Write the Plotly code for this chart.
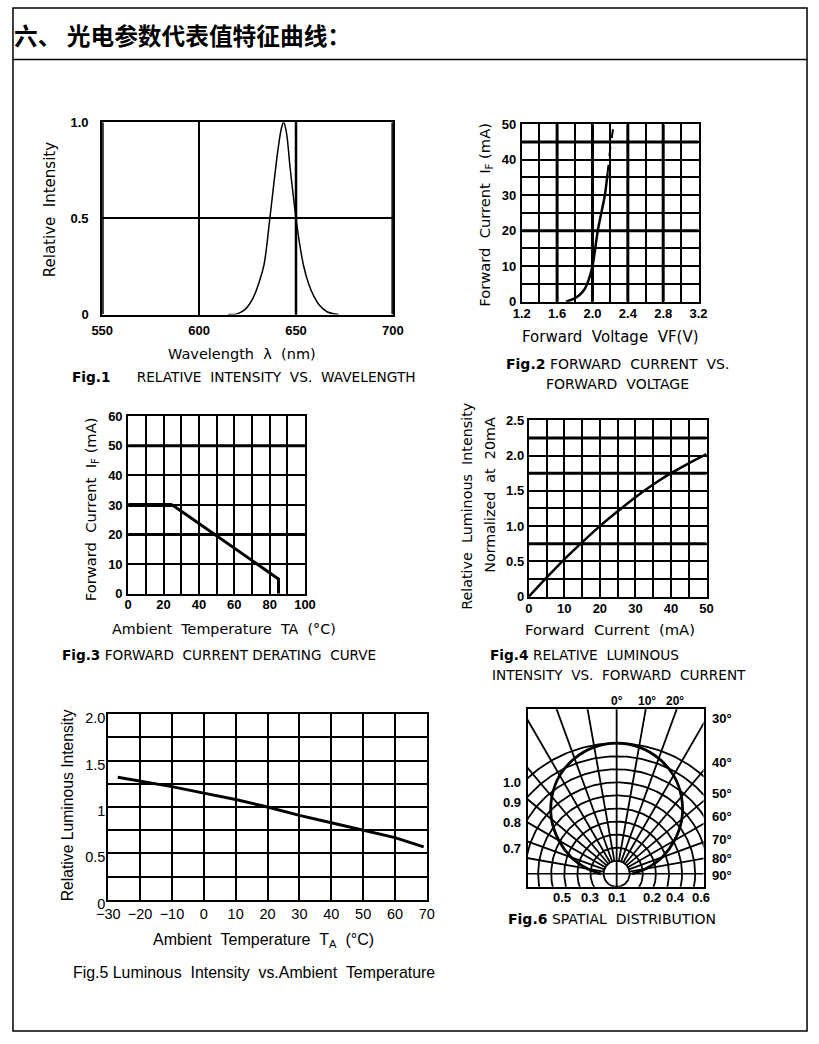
import numpy as np
import plotly.graph_objects as go

W, H = 819, 1044
# observed mapping of the page into the photograph (measured): obs = S * (page + PAD)
SX, PADX, SY, PADY = 0.973, 12.0, 0.985, 7.5

# ---------------- DATA ----------------
# Fig.1 relative intensity vs wavelength
wavelength_nm = [615, 620, 624, 628, 631, 633.5, 636.5, 639, 641, 642.5, 643.6, 645, 647, 650, 652, 654, 656.5, 659, 662, 666, 672]
relative_intensity = [0, 0.005, 0.03, 0.09, 0.17, 0.26, 0.5, 0.72, 0.88, 0.97, 1.0, 0.95, 0.76, 0.5, 0.36, 0.25, 0.16, 0.10, 0.05, 0.015, 0]
fig1_xticks = [550, 600, 650, 700]
fig1_xlabels = ["550", "600", "650", "700"]
fig1_yticks = [0, 0.5, 1.0]
fig1_ylabels = ["0", "0.5", "1.0"]

# Fig.2 forward current vs forward voltage
vf_solid = [1.70, 1.78, 1.85, 1.91, 1.96, 2.00, 2.06, 2.10, 2.14, 2.17]
if_solid = [0, 0.7, 1.8, 3.5, 6.4, 10, 20, 25, 30, 36]
vf_dash = [2.17, 2.20, 2.24]
if_dash = [36, 43, 50]
fig2_xticks = [1.2, 1.4, 1.6, 1.8, 2.0, 2.2, 2.4, 2.6, 2.8, 3.0, 3.2]
fig2_xlabels = ["1.2", "", "1.6", "", "2.0", "", "2.4", "", "2.8", "", "3.2"]
fig2_yticks = [0, 5, 10, 15, 20, 25, 30, 35, 40, 45, 50]
fig2_ylabels = ["0", "", "10", "", "20", "", "30", "", "40", "", "50"]

# Fig.3 derating curve
ta_derate = [0, 25, 85, 85]
if_derate = [30, 30, 5, 0]
fig3_xticks = [0, 10, 20, 30, 40, 50, 60, 70, 80, 90, 100]
fig3_xlabels = ["0", "", "20", "", "40", "", "60", "", "80", "", "100"]
fig3_yticks = [0, 10, 20, 30, 40, 50, 60]
fig3_ylabels = ["0", "10", "20", "30", "40", "50", "60"]

# Fig.4 relative luminous intensity vs forward current
if_lum = [0, 5, 10, 15, 20, 25, 30, 35, 40, 45, 50]
rel_lum = [0, 0.27, 0.53, 0.77, 1.0, 1.21, 1.41, 1.59, 1.75, 1.89, 2.02]
fig4_xticks = [0, 5, 10, 15, 20, 25, 30, 35, 40, 45, 50]
fig4_xlabels = ["0", "", "10", "", "20", "", "30", "", "40", "", "50"]
fig4_yticks = [0, 0.25, 0.5, 0.75, 1.0, 1.25, 1.5, 1.75, 2.0, 2.25, 2.5]
fig4_ylabels = ["0", "", "0.5", "", "1.0", "", "1.5", "", "2.0", "", "2.5"]

# Fig.5 luminous intensity vs ambient temperature
ta_lum = [-27, -20, -10, 0, 10, 20, 30, 40, 50, 60, 69]
rel_lum_ta = [1.32, 1.28, 1.22, 1.15, 1.08, 1.0, 0.91, 0.83, 0.75, 0.67, 0.57]
fig5_xticks = [-30, -20, -10, 0, 10, 20, 30, 40, 50, 60, 70]
fig5_xlabels = ["\u221230", "\u221220", "\u221210", "0", "10", "20", "30", "40", "50", "60", "70"]
fig5_yticks = [0, 0.25, 0.5, 0.75, 1.0, 1.25, 1.5, 1.75, 2.0]
fig5_ylabels = ["0", "", "0.5", "", "1", "", "1.5", "", "2.0"]

# Fig.6 spatial distribution
beam_angle_deg = [0, 10, 20, 30, 40, 50, 60, 70, 80, 90]
beam_rel_intensity = [1.0, 0.985, 0.94, 0.87, 0.77, 0.65, 0.51, 0.37, 0.23, 0.12]
fig6_top_labels = ["0°", "10°", "20°"]
fig6_right_labels = ["30°", "40°", "50°", "60°", "70°", "80°", "90°"]
fig6_left_labels = ["1.0", "0.9", "0.8", "0.7"]
fig6_bottom_labels = ["0.5", "0.3", "0.1", "0.2", "0.4", "0.6"]

# ---------------- HELPERS ----------------
FONT = "Liberation Sans"
TFONT = "DejaVu Sans"
NB = "\u00a0"


def X(rx):
    return (rx / SX - PADX) / W


def Y(ry):
    return 1 - (ry / SY - PADY) / H


fig = go.Figure()
annotations = []
shapes = []


def ann(text, px, py, size=13, xanchor="center", angle=0, bold=False, family=TFONT):
    annotations.append(dict(
        text=text, x=X(px), y=Y(py), xref="paper", yref="paper",
        xanchor=xanchor, yanchor="middle", showarrow=False, textangle=angle,
        font=dict(family=family, size=size, color="black", weight="bold" if bold else "normal"),
    ))


def add_axes(n, x0, x1, y0, y1, xr, yr, xt, xl, yt, yl, gridw=2, tsize=13, tbold=True,
             show=True, xstand=0, ystand=0, yshift=0):
    sfx = "" if n == 1 else str(n)
    tf = dict(family=FONT, size=tsize, color="black", weight="bold" if tbold else "normal")
    common = dict(showline=True, mirror=True, linecolor="black", linewidth=2,
                  showgrid=show, gridcolor="black", gridwidth=gridw, zeroline=False,
                  ticks="", tickfont=tf, fixedrange=True, showticklabels=show)
    fig.update_layout(**{
        "xaxis" + sfx: dict(domain=[X(x0), X(x1)], range=xr, anchor="y" + sfx,
                            tickmode="array", tickvals=xt, ticktext=xl,
                            ticklabelstandoff=xstand, **common),
        "yaxis" + sfx: dict(domain=[Y(y1), Y(y0)], range=yr, anchor="x" + sfx,
                            tickmode="array", tickvals=yt, ticktext=yl,
                            ticklabelstandoff=ystand, ticklabelshift=yshift, **common),
    })


def thick(n, orient, val, rng, width=3):
    sfx = "" if n == 1 else str(n)
    if orient == "v":
        shapes.append(dict(type="line", xref="x" + sfx, yref="y" + sfx, x0=val, x1=val, y0=rng[0], y1=rng[1],
                           line=dict(color="black", width=width), layer="below"))
    else:
        shapes.append(dict(type="line", xref="x" + sfx, yref="y" + sfx, y0=val, y1=val, x0=rng[0], x1=rng[1],
                           line=dict(color="black", width=width), layer="below"))


def line_trace(n, x, y, width=2, dash="solid", shape="linear"):
    sfx = "" if n == 1 else str(n)
    fig.add_trace(go.Scatter(x=x, y=y, mode="lines", xaxis="x" + sfx, yaxis="y" + sfx,
                             line=dict(color="black", width=width, dash=dash, shape=shape),
                             hoverinfo="skip", showlegend=False))


# ---------------- FIG 1 ----------------
add_axes(1, 102, 393, 123, 316, [550, 700], [0, 1], fig1_xticks, fig1_xlabels, fig1_yticks, fig1_ylabels,
         gridw=1.5, xstand=3, ystand=9)
thick(1, "v", 650, [0, 1], 2.5)
thick(1, "v", 550, [0, 1], 3)
thick(1, "v", 700, [0, 1], 3)
line_trace(1, wavelength_nm, relative_intensity, width=1.5, shape="spline")
ann("Relative" + NB * 2 + "Intensity", 50, 211, 15, angle=-90)
ann("Wavelength" + NB * 2 + "λ" + NB * 2 + "(nm)", 242, 356, 14.5)
ann("<b>Fig.1</b>" + NB * 6 + "RELATIVE" + NB * 2 + "INTENSITY" + NB * 2 + "VS." + NB * 2 + "WAVELENGTH", 70, 379, 13.7, xanchor="left")

# ---------------- FIG 2 ----------------
add_axes(2, 522, 699, 125, 303, [1.2, 3.2], [0, 50], fig2_xticks, fig2_xlabels, fig2_yticks, fig2_ylabels,
         gridw=2, xstand=-1, ystand=1)
for v in [1.6, 2.0, 2.4, 2.8]:
    thick(2, "v", v, [0, 50], 3)
for v in [20, 45]:
    thick(2, "h", v, [1.2, 3.2], 3)
line_trace(2, vf_solid, if_solid, width=2.5, shape="spline")
line_trace(2, vf_dash, if_dash, width=2, dash="dash")
ann("Forward" + NB * 2 + "Current" + NB * 2 + "I<sub>F</sub>" + NB + "(mA)", 486, 216, 14.7, angle=-90)
ann("Forward" + NB * 2 + "Voltage" + NB * 2 + "VF(V)", 611, 338, 15)
ann("<b>Fig.2</b>" + NB + "FORWARD" + NB * 2 + "CURRENT" + NB * 2 + "VS.", 618, 366, 14)
ann("FORWARD" + NB * 2 + "VOLTAGE", 618, 386, 14)

# ---------------- FIG 3 ----------------
add_axes(3, 128, 305, 418, 596, [0, 100], [0, 60], fig3_xticks, fig3_xlabels, fig3_yticks, fig3_ylabels,
         gridw=2, xstand=-2, ystand=1)
for v in [20, 50]:
    thick(3, "h", v, [0, 100], 3)
line_trace(3, ta_derate[:2], if_derate[:2], width=4)
line_trace(3, ta_derate[1:], if_derate[1:], width=3)
ann("Forward" + NB * 2 + "Current" + NB * 2 + "I<sub>F</sub>" + NB + "(mA)", 92, 511, 14.7, angle=-90)
ann("Ambient" + NB * 2 + "Temperature" + NB * 2 + "TA" + NB * 2 + "(°C)", 224, 631, 14.3)
ann("<b>Fig.3</b>" + NB + "FORWARD" + NB * 2 + "CURRENT" + NB + "DERATING" + NB * 2 + "CURVE", 60, 658, 13.6, xanchor="left")

# ---------------- FIG 4 ----------------
add_axes(4, 529, 707, 422, 599, [0, 50], [0, 2.5], fig4_xticks, fig4_xlabels, fig4_yticks, fig4_ylabels,
         gridw=2, xstand=-1, ystand=0)
for v in [0.75, 1.75, 2.25]:
    thick(4, "h", v, [0, 50], 3)
line_trace(4, if_lum, rel_lum, width=2.5, shape="spline")
ann("Relative" + NB * 2 + "Luminous" + NB * 2 + "Intensity", 467, 508, 14.3, angle=-90)
ann("Normalized" + NB * 2 + "at" + NB * 2 + "20mA", 490, 497, 14.3, angle=-90)
ann("Forward" + NB * 2 + "Current" + NB * 2 + "(mA)", 610, 632, 14.8)
ann("<b>Fig.4</b>" + NB + "RELATIVE" + NB * 2 + "LUMINOUS", 488, 658, 13.7, xanchor="left")
ann("INTENSITY" + NB * 2 + "VS." + NB * 2 + "FORWARD" + NB * 2 + "CURRENT", 490, 678, 13.6, xanchor="left")

# ---------------- FIG 5 ----------------
add_axes(5, 108, 427, 717, 903, [-30, 70], [0, 2], fig5_xticks, fig5_xlabels, fig5_yticks, fig5_ylabels,
         gridw=1.5, tsize=14.5, tbold=False, xstand=0, ystand=-2, yshift=4)
line_trace(5, ta_lum, rel_lum_ta, width=3)
ann("Relative" + NB + "Luminous" + NB + "Intensity", 67, 808, 15.7, angle=-90, family=FONT)
ann("Ambient" + NB * 2 + "Temperature" + NB * 2 + "T<sub>A</sub>" + NB * 2 + "(°C)", 263, 944, 16, family=FONT)
ann("Fig.5" + NB + "Luminous" + NB * 2 + "Intensity" + NB * 2 + "vs.Ambient" + NB * 2 + "Temperature", 254, 976, 15.9, family=FONT)

# ---------------- FIG 6 ----------------
cx, cy, scale = 617, 877, 131.0
add_axes(6, 528, 704, 712, 890, [(528 - cx) / scale, (704 - cx) / scale], [(cy - 890) / scale, (cy - 712) / scale],
         [], [], [], [], show=False)
t = np.linspace(0, 2 * np.pi, 361)
for r in np.arange(1, 11) / 10.0:
    line_trace(6, list(r * np.cos(t)), list(r * np.sin(t)), width=1.8)
for a in range(-80, 90, 10):
    if a == 0:
        continue
    ar = np.radians(a)
    line_trace(6, [0.1 * np.sin(ar), 2.0 * np.sin(ar)], [0.1 * np.cos(ar), 2.0 * np.cos(ar)], width=1.8)
line_trace(6, [0, 0], [-1, 2], width=1.8)
line_trace(6, [-1, 1], [0, 0], width=1.5)
ang_full = [-a for a in beam_angle_deg[::-1]] + beam_angle_deg[1:]
int_full = beam_rel_intensity[::-1] + beam_rel_intensity[1:]
cxs = [i * np.sin(np.radians(a)) for a, i in zip(ang_full, int_full)]
cys = [i * np.cos(np.radians(a)) for a, i in zip(ang_full, int_full)]
line_trace(6, cxs, cys, width=2.8, shape="spline")
for lab, px in zip(fig6_top_labels, [617, 647, 675]):
    ann(lab, px, 704, 12, bold=True, family=FONT)
for lab, py in zip(fig6_right_labels, [721, 765, 796, 820, 843, 862, 879]):
    ann(lab, 710, py, 13, xanchor="left", bold=True, family=FONT)
for lab, py in zip(fig6_left_labels, [785, 805, 826, 852]):
    ann(lab, 523, py, 13, xanchor="right", bold=True, family=FONT)
for lab, px in zip(fig6_bottom_labels, [562, 590, 617, 652, 676, 701]):
    ann(lab, px, 901, 13, bold=True, family=FONT)
ann("<b>Fig.6</b>" + NB + "SPATIAL" + NB * 2 + "DISTRIBUTION", 612, 922, 14)

# ---------------- FRAME & TITLE ----------------
fx0, fx1 = max(X(4), 1 / W), min(X(815), 1 - 1 / W)
fy_top, fy_bot = min(Y(5), 1 - 1 / H), max(Y(1038), 1 / H)
shapes.append(dict(type="rect", xref="paper", yref="paper", x0=fx0, x1=fx1, y0=fy_bot, y1=fy_top,
                   line=dict(color="black", width=1.5)))
shapes.append(dict(type="line", xref="paper", yref="paper", x0=fx0, x1=fx1, y0=Y(60), y1=Y(60),
                   line=dict(color="black", width=1.5)))
ann("六、 光电参数代表值特征曲线：", 12, 35, 23.7, xanchor="left", bold=True, family="Noto Sans CJK SC")

fig.update_layout(
    width=W, height=H, autosize=False,
    margin=dict(l=0, r=0, t=0, b=0),
    paper_bgcolor="white", plot_bgcolor="white",
    showlegend=False, annotations=annotations, shapes=shapes,
)

fig.write_html("out.html", config={"displayModeBar": False},
               post_script="document.body.style.margin='0';document.body.style.overflow='hidden';")
